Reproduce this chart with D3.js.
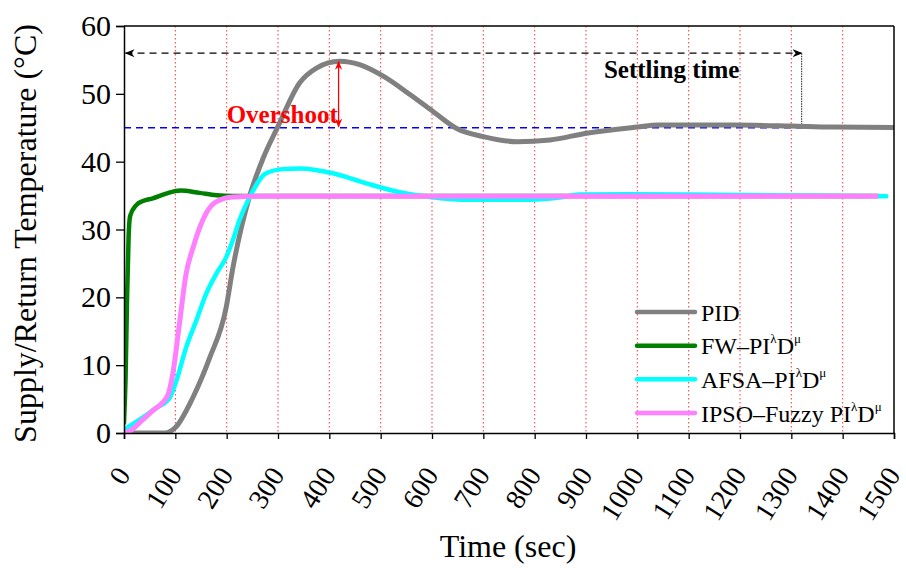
<!DOCTYPE html>
<html>
<head>
<meta charset="utf-8">
<script src="https://cdn.jsdelivr.net/npm/d3@7"></script>
<style>
  html, body { margin: 0; padding: 0; background: #fff; }
  svg { display: block; font-family: "Liberation Serif", "Times New Roman", serif; }
</style>
</head>
<body>
<svg id="chart" width="906" height="568"></svg>
<script>
// Time axis ticks and temperature ticks
const xTicks = [0, 100, 200, 300, 400, 500, 600, 700, 800, 900, 1000, 1100, 1200, 1300, 1400, 1500];
const yTicks = [0, 10, 20, 30, 40, 50, 60];

// PID response [time (s), temperature (°C)]
const pidT = [0, 80, 100, 134, 167, 199, 212, 245, 271, 300, 342, 375, 420, 459, 505, 557, 602, 648, 700, 765, 830, 901, 1000, 1040, 1190, 1300, 1380, 1500];
const pidV = [0, 0, 0.8, 5.2, 11.1, 18.5, 24.3, 35.0, 40.5, 45.2, 51.6, 53.8, 54.8, 54.3, 52.6, 49.9, 47.4, 44.9, 43.7, 42.95, 43.2, 44.2, 45.1, 45.4, 45.4, 45.25, 45.1, 45.05];

// FW-PI^λD^μ response
const fwT = [0, 3, 6, 9, 12, 24, 37, 56, 82, 110, 147, 180, 212, 300, 1470];
const fwV = [1.5, 8, 20, 29, 32, 33.6, 34.2, 34.6, 35.3, 35.75, 35.4, 35.05, 34.95, 34.95, 34.95];

// AFSA-PI^λD^μ response
const afsaT = [0, 37, 63, 89, 102, 121, 141, 160, 180, 199, 212, 225, 245, 277, 310, 342, 407, 472, 537, 596, 661, 791, 856, 888, 986, 1100, 1300, 1485];
const afsaV = [0.5, 2.3, 3.7, 5.2, 7.7, 12.6, 16.6, 20.5, 23.5, 25.9, 28.4, 31.4, 34.8, 38.3, 38.9, 39.0, 38.3, 36.8, 35.5, 34.8, 34.4, 34.4, 34.8, 35.15, 35.2, 35.15, 35.0, 34.9];

// IPSO-Fuzzy PI^λD^μ response
const ipsoT = [0, 11, 37, 56, 85, 95, 108, 121, 134, 160, 180, 212, 260, 1465];
const ipsoV = [0, 0.3, 2.0, 3.3, 5.5, 8.7, 16.1, 23.5, 27.2, 32.4, 34.1, 34.8, 34.9, 34.9];

// Annotation values
const setpoint = 45;          // target temperature
const peakTime = 418;         // time of PID peak
const peakValue = 54.9;       // PID peak temperature
const settleLevel = 56;       // height of settling-time arrow
const settleTime = 1320;      // settling time of PID

const seriesNames = ["PID", "FW", "AFSA", "IPSO"];
const seriesColors = ["#808080", "#007f00", "#00ffff", "#ff80ff"];
const seriesWidths = [5, 4.5, 4.5, 5];

const series = [
  { t: pidT, v: pidV },
  { t: fwT, v: fwV },
  { t: afsaT, v: afsaV },
  { t: ipsoT, v: ipsoV }
].map((s, i) => ({
  name: seriesNames[i], color: seriesColors[i], width: seriesWidths[i],
  points: s.t.map((t, j) => [t, s.v[j]])
}));

const FONT = "Liberation Serif, Times New Roman, serif";
const svg = d3.select("#chart");
const margin = { left: 124, top: 26, right: 12, bottom: 135 };
const W = 906 - margin.left - margin.right;
const H = 568 - margin.top - margin.bottom;

const x = d3.scaleLinear().domain([0, 1500]).range([0, W]);
const y = d3.scaleLinear().domain([0, 60]).range([H, 0]);

const defs = svg.append("defs");
defs.append("clipPath").attr("id", "plotClip")
  .append("rect").attr("x", 0).attr("y", 0).attr("width", W).attr("height", H);

function arrowMarker(id, color, size) {
  defs.append("marker").attr("id", id)
    .attr("viewBox", "0 0 10 10").attr("refX", 9).attr("refY", 5)
    .attr("markerWidth", size).attr("markerHeight", size)
    .attr("markerUnits", "userSpaceOnUse")
    .attr("orient", "auto-start-reverse")
    .append("path").attr("d", "M0,1 L10,5 L0,9 L3,5 Z").attr("fill", color);
}
arrowMarker("arrRed", "#ff0000", 9);
arrowMarker("arrBlack", "#000", 10);

const g = svg.append("g").attr("transform", `translate(${margin.left},${margin.top})`);

// vertical red dotted grid
g.append("g").selectAll("line")
  .data(xTicks.filter(d => d > 0 && d < 1500))
  .join("line")
  .attr("x1", d => x(d)).attr("x2", d => x(d))
  .attr("y1", 0).attr("y2", H)
  .attr("stroke", "#ff3333").attr("stroke-width", 1)
  .attr("stroke-dasharray", "1.5,2.5");

// setpoint line
g.append("line")
  .attr("x1", 0).attr("x2", W)
  .attr("y1", y(setpoint)).attr("y2", y(setpoint))
  .attr("stroke", "#0000ff").attr("stroke-width", 1.3)
  .attr("stroke-dasharray", "7,5");

// settling time arrow
g.append("line")
  .attr("x1", x(3)).attr("x2", x(settleTime))
  .attr("y1", y(settleLevel)).attr("y2", y(settleLevel))
  .attr("stroke", "#000").attr("stroke-width", 1.2)
  .attr("stroke-dasharray", "7,5")
  .attr("marker-start", "url(#arrBlack)")
  .attr("marker-end", "url(#arrBlack)");
g.append("line")
  .attr("x1", x(settleTime)).attr("x2", x(settleTime))
  .attr("y1", y(settleLevel)).attr("y2", y(setpoint))
  .attr("stroke", "#444").attr("stroke-width", 1.2)
  .attr("stroke-dasharray", "1.5,1");

// response curves
const line = d3.line()
  .x(d => x(d[0])).y(d => y(d[1]))
  .curve(d3.curveMonotoneX);

g.append("g").attr("clip-path", "url(#plotClip)")
  .selectAll("path")
  .data(series)
  .join("path")
  .attr("d", d => line(d.points))
  .attr("fill", "none")
  .attr("stroke", d => d.color)
  .attr("stroke-width", d => d.width)
  .attr("stroke-linejoin", "round")
  .attr("stroke-linecap", "round");

// overshoot arrow
g.append("line")
  .attr("x1", x(peakTime)).attr("x2", x(peakTime))
  .attr("y1", y(setpoint) - 1).attr("y2", y(peakValue) + 1)
  .attr("stroke", "#ff0000").attr("stroke-width", 1.3)
  .attr("marker-start", "url(#arrRed)")
  .attr("marker-end", "url(#arrRed)");

g.append("text")
  .attr("x", x(200)).attr("y", y(setpoint) - 5)
  .attr("fill", "#ff0000").attr("font-weight", "bold").attr("font-size", 25)
  .text("Overshoot");

g.append("text")
  .attr("x", x(935)).attr("y", y(setpoint) - 50)
  .attr("fill", "#000").attr("font-weight", "bold").attr("font-size", 25)
  .text("Settling time");

// axes
const xAxis = g.append("g").attr("transform", `translate(0,${H})`)
  .call(d3.axisBottom(x).tickValues(xTicks).tickSize(6).tickFormat(""))
  .attr("font-family", FONT);
xAxis.select(".domain").attr("stroke-width", 1.5);
xAxis.selectAll(".tick line").attr("stroke-width", 1.3);

xAxis.selectAll(".tick").append("text")
  .attr("fill", "#000").attr("font-size", 28)
  .attr("text-anchor", "end")
  .attr("transform", "translate(7,42) rotate(-58)")
  .text(d => d);

const yAxis = g.append("g")
  .call(d3.axisLeft(y).tickValues(yTicks).tickSize(8).tickPadding(5))
  .attr("font-family", FONT);
yAxis.select(".domain").attr("stroke-width", 1.5);
yAxis.selectAll(".tick line").attr("stroke-width", 1.3);
yAxis.selectAll(".tick text").attr("font-size", 30).attr("fill", "#000");

// frame top & right
g.append("line").attr("x1", 0).attr("x2", W).attr("y1", 0).attr("y2", 0)
  .attr("stroke", "#000").attr("stroke-width", 1.5);
g.append("line").attr("x1", W).attr("x2", W).attr("y1", 0).attr("y2", H)
  .attr("stroke", "#000").attr("stroke-width", 1.5);

// axis titles
svg.append("text")
  .attr("transform", `translate(36,${margin.top + H / 2 + 4}) rotate(-90)`)
  .attr("text-anchor", "middle").attr("font-size", 32)
  .text("Supply/Return Temperature (°C)");

svg.append("text")
  .attr("x", margin.left + W / 2 - 1).attr("y", 557)
  .attr("text-anchor", "middle").attr("font-size", 32)
  .text("Time (sec)");

// legend
const legendLabels = [
  [{ t: "PID" }],
  [{ t: "FW\u2013PI" }, { t: "\u03bb", sup: true }, { t: "D" }, { t: "\u03bc", sup: true }],
  [{ t: "AFSA\u2013PI" }, { t: "\u03bb", sup: true }, { t: "D" }, { t: "\u03bc", sup: true }],
  [{ t: "IPSO\u2013Fuzzy PI" }, { t: "\u03bb", sup: true }, { t: "D" }, { t: "\u03bc", sup: true }]
];
const legendY = d3.scalePoint().domain(d3.range(series.length)).range([312, 413]);
const leg = svg.append("g");
series.forEach((s, i) => {
  const ly = legendY(i);
  leg.append("line")
    .attr("x1", 637).attr("x2", 695).attr("y1", ly).attr("y2", ly)
    .attr("stroke", s.color).attr("stroke-width", 4.5).attr("stroke-linecap", "round");
  const txt = leg.append("text").attr("x", 701).attr("y", ly + 8.5).attr("font-size", 24);
  legendLabels[i].forEach(p => {
    if (p.sup) {
      txt.append("tspan").attr("font-size", 13).attr("dy", -11).text(p.t);
    } else {
      const ts = txt.append("tspan").text(p.t);
      if (txt.selectAll("tspan").size() > 1) ts.attr("dy", 11);
    }
  });
});
</script>
</body>
</html>
